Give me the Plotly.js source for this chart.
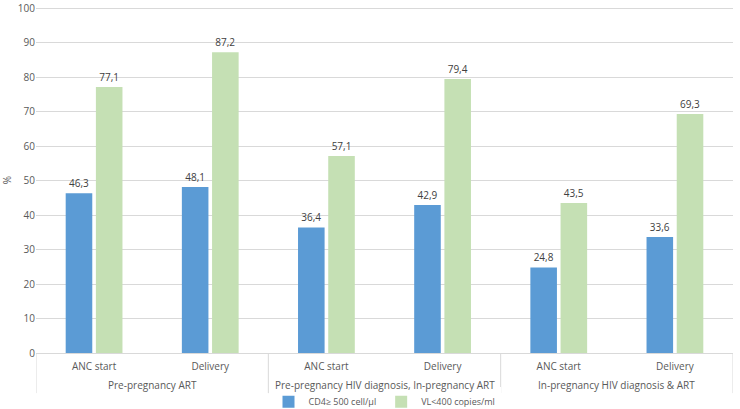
<!DOCTYPE html>
<html><head><meta charset="utf-8">
<script src="https://cdn.plot.ly/plotly-3.0.1.min.js"></script>
<style>html,body{margin:0;padding:0;background:#fff}#c{width:740px;height:409px}</style>
</head><body><div id="c"></div>
<script>
const groupNames = ["Pre-pregnancy ART", "Pre-pregnancy HIV diagnosis, In-pregnancy ART", "In-pregnancy HIV diagnosis & ART"];
const stages = ["ANC start","Delivery","ANC start","Delivery","ANC start","Delivery"];
const cd4 = [46.3, 48.1, 36.4, 42.9, 24.8, 33.6];
const vl = [77.1, 87.2, 57.1, 79.4, 43.5, 69.3];
const seriesNames = ["CD4≥ 500 cell/µl", "VL<400 copies/ml"];

const idx = stages.map((_, i) => i);
const per = stages.length / groupNames.length;
const font = {family: "Open Sans, Liberation Sans, sans-serif", size: 10, color: "#595959"};
const mk = (y, name, color) => ({
  type: "bar", x: idx, y: y, name: name,
  marker: {color: color},
  texttemplate: "%{y:.1f}", textposition: "outside", cliponaxis: false,
  textfont: {size: 10, color: "#404040"},
  hoverinfo: "skip"
});
const data = [mk(cd4, seriesNames[0], "#5B9BD5"), mk(vl, seriesNames[1], "#C5E0B4")];

const annotations = groupNames.map((g, k) => ({
  text: g, xref: "x", yref: "paper", x: k * per + (per - 1) / 2, y: -0.093,
  xanchor: "center", yanchor: "middle", showarrow: false,
  font: {size: 10, color: "#595959"}
}));
const shapes = [];
for (let k = 0; k <= groupNames.length; k++) {
  shapes.push({type: "line", xref: "x", yref: "paper", x0: k * per - 0.5, x1: k * per - 0.5,
               y0: 0, y1: -0.116, line: {color: "#d9d9d9", width: 1}});
}

const layout = {
  width: 740, height: 409,
  margin: {l: 36, r: 7, t: 7, b: 56, autoexpand: false},
  separators: ",.",
  font: font,
  barmode: "group", bargap: 0.48, bargroupgap: 0.12,
  paper_bgcolor: "#fff", plot_bgcolor: "#fff",
  showlegend: true,
  legend: {orientation: "h", x: 0.5, xanchor: "center", yref: "paper", y: -0.141, yanchor: "middle",
           font: {size: 9, color: "#595959"}, itemwidth: 30, traceorder: "normal"},
  annotations: annotations, shapes: shapes,
  xaxis: {range: [-0.5, stages.length - 0.5], tickvals: idx, ticktext: stages,
          showline: true, linecolor: "#d9d9d9", linewidth: 1, showgrid: false, zeroline: false,
          tickfont: {size: 10, color: "#595959"}, ticks: "", ticklabelstandoff: 4, automargin: false},
  yaxis: {range: [0, 100.3], tickvals: [0,10,20,30,40,50,60,70,80,90,100], showgrid: true, gridcolor: "#d9d9d9", zeroline: false,
          showline: false, tickfont: {size: 10, color: "#595959"}, automargin: false, ticklabeloverflow: "allow",
          title: {text: "%", font: {size: 10, color: "#595959"}, standoff: 8}}
};
Plotly.newPlot("c", data, layout, {displayModeBar: false, staticPlot: true});
</script></body></html>
